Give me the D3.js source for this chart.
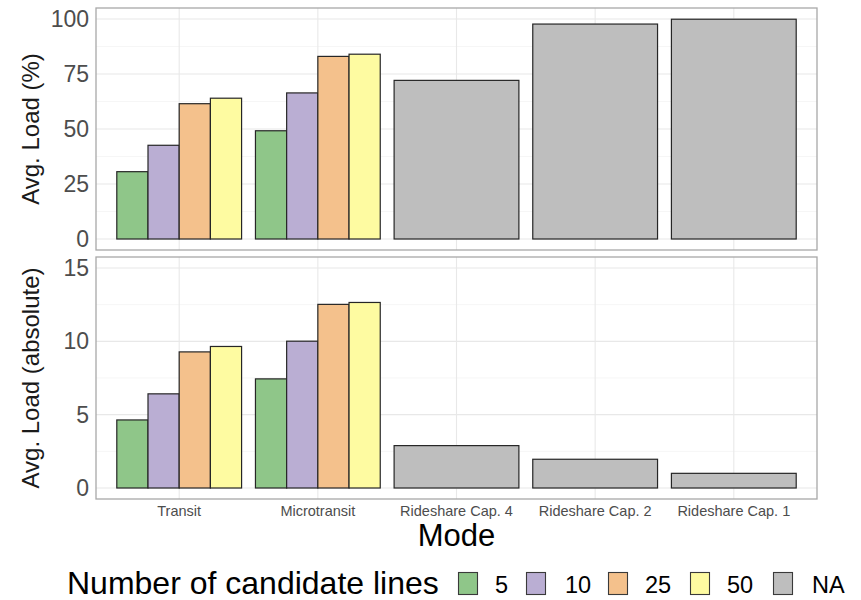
<!DOCTYPE html>
<html>
<head>
<meta charset="utf-8">
<script src="https://cdn.jsdelivr.net/npm/d3@7"></script>
<style>
  html, body { margin: 0; padding: 0; background: #fff; }
  svg { display: block; font-family: "Liberation Sans", Arial, Helvetica, sans-serif; }
</style>
</head>
<body>
<svg id="chart" width="861" height="600"></svg>
<script>
// Modes on the x axis
const modes = ["Transit", "Microtransit", "Rideshare Cap. 4", "Rideshare Cap. 2", "Rideshare Cap. 1"];
// Fill groups (number of candidate lines); rideshare modes have no group (NA)
const lineCounts = ["5", "10", "25", "50"];
const legendKeys = ["5", "10", "25", "50", "NA"];

// Average load in percent
const transitPct = [30.6, 42.6, 61.5, 64.0];
const microtransitPct = [49.2, 66.4, 83.0, 84.0];
const ridesharePct = [72.1, 97.7, 99.9];

// Average load in absolute passengers
const transitAbs = [4.64, 6.42, 9.28, 9.65];
const microtransitAbs = [7.44, 10.01, 12.52, 12.65];
const rideshareAbs = [2.89, 1.96, 1.0];

// Axis ticks
const pctTicks = [0, 25, 50, 75, 100];
const absTicks = [0, 5, 10, 15];

const fillColors = {
  "5": "#8FC689",
  "10": "#BAAED3",
  "25": "#F4C18C",
  "50": "#FEFBA1",
  "NA": "#BEBEBE"
};

// Build long-form rows for one panel
function buildRows(transit, micro, rideshare) {
  const rows = [];
  lineCounts.forEach((g, i) => rows.push({ mode: modes[0], group: g, value: transit[i] }));
  lineCounts.forEach((g, i) => rows.push({ mode: modes[1], group: g, value: micro[i] }));
  rideshare.forEach((v, i) => rows.push({ mode: modes[2 + i], group: "NA", value: v }));
  return rows;
}

const svg = d3.select("#chart");
const left = 96, right = 817;

const x = d3.scaleBand()
  .domain(modes)
  .range([left, right])
  .paddingInner(0.1)
  .paddingOuter(0.15);

const xGroup = d3.scaleBand()
  .domain(lineCounts)
  .range([0, x.bandwidth()]);

const panels = [
  {
    rows: buildRows(transitPct, microtransitPct, ridesharePct),
    top: 8, bottom: 250,
    domain: [-5, 105],
    ticks: pctTicks,
    title: "Avg. Load (%)"
  },
  {
    rows: buildRows(transitAbs, microtransitAbs, rideshareAbs),
    top: 257, bottom: 499,
    domain: [-0.75, 15.75],
    ticks: absTicks,
    title: "Avg. Load (absolute)"
  }
];

panels.forEach(p => {
  const y = d3.scaleLinear().domain(p.domain).range([p.bottom, p.top]);
  const g = svg.append("g");

  // minor horizontal grid (midpoints between major ticks)
  const minor = d3.pairs(p.ticks).map(([a, b]) => (a + b) / 2);
  g.selectAll("line.minor").data(minor).join("line")
    .attr("x1", left).attr("x2", right)
    .attr("y1", d => y(d)).attr("y2", d => y(d))
    .attr("stroke", "#F2F2F2").attr("stroke-width", 0.7);

  // major horizontal grid
  g.selectAll("line.major").data(p.ticks).join("line")
    .attr("x1", left).attr("x2", right)
    .attr("y1", d => y(d)).attr("y2", d => y(d))
    .attr("stroke", "#E8E8E8").attr("stroke-width", 1.1);

  // vertical grid at each mode
  g.selectAll("line.vgrid").data(modes).join("line")
    .attr("x1", d => x(d) + x.bandwidth() / 2).attr("x2", d => x(d) + x.bandwidth() / 2)
    .attr("y1", p.top).attr("y2", p.bottom)
    .attr("stroke", "#E8E8E8").attr("stroke-width", 1.1);

  // bars
  g.selectAll("rect.bar").data(p.rows).join("rect")
    .attr("x", d => d.group === "NA" ? x(d.mode) : x(d.mode) + xGroup(d.group))
    .attr("width", d => d.group === "NA" ? x.bandwidth() : xGroup.bandwidth())
    .attr("y", d => y(d.value))
    .attr("height", d => y(0) - y(d.value))
    .attr("fill", d => fillColors[d.group])
    .attr("stroke", "#262626")
    .attr("stroke-width", 1.2);

  // panel border
  g.append("rect")
    .attr("x", left).attr("y", p.top)
    .attr("width", right - left).attr("height", p.bottom - p.top)
    .attr("fill", "none").attr("stroke", "#A8A8A8").attr("stroke-width", 1.3);

  // y axis (labels only)
  const axis = g.append("g")
    .attr("transform", `translate(${left},0)`)
    .call(d3.axisLeft(y).tickValues(p.ticks).tickSize(0).tickPadding(7).tickFormat(d3.format("d")));
  axis.select(".domain").remove();
  axis.selectAll("text")
    .attr("font-size", 23)
    .attr("fill", "#4D4D4D")
    .attr("font-family", "Liberation Sans, Arial, sans-serif");

  // y axis title
  g.append("text")
    .attr("transform", `translate(39,${(p.top + p.bottom) / 2}) rotate(-90)`)
    .attr("text-anchor", "middle")
    .attr("font-size", 24)
    .attr("fill", "#1a1a1a")
    .text(p.title);
});

// x axis tick labels
const xAxis = svg.append("g")
  .attr("transform", `translate(0,499)`)
  .call(d3.axisBottom(x).tickSize(0).tickPadding(7));
xAxis.select(".domain").remove();
xAxis.selectAll("text")
  .attr("font-size", 14.5)
  .attr("fill", "#4D4D4D")
  .attr("font-family", "Liberation Sans, Arial, sans-serif");

// x axis title
svg.append("text")
  .attr("x", (left + right) / 2)
  .attr("y", 546)
  .attr("text-anchor", "middle")
  .attr("font-size", 31)
  .attr("fill", "#000")
  .text("Mode");

// legend
const legend = svg.append("g");
legend.append("text")
  .attr("x", 67).attr("y", 594)
  .attr("font-size", 32)
  .attr("fill", "#000")
  .text("Number of candidate lines");

const keyX = [458, 526, 608, 690, 773];
legendKeys.forEach((k, i) => {
  legend.append("rect")
    .attr("x", keyX[i] + 0.5).attr("y", 572.5)
    .attr("width", 19).attr("height", 22)
    .attr("fill", fillColors[k])
    .attr("stroke", "#3a3a3a").attr("stroke-width", 1.1);
  legend.append("text")
    .attr("x", keyX[i] + 37 + (i === 1 || i === 4 ? 2 : 0)).attr("y", 593)
    .attr("font-size", 23.5)
    .attr("fill", "#000")
    .text(k);
});
</script>
</body>
</html>
